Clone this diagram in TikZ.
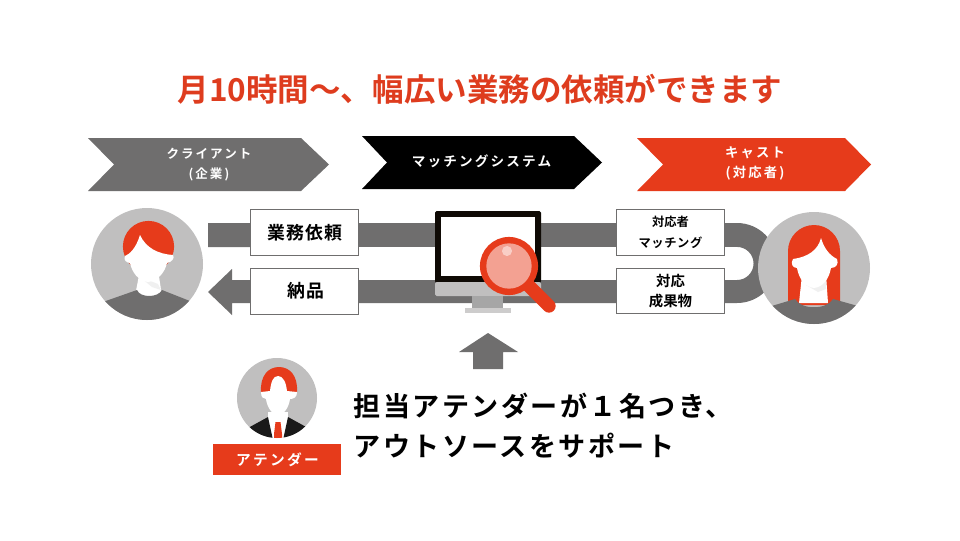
\documentclass[tikz,border=0pt]{standalone}
\usepackage{fontspec}
\setmainfont{Noto Sans CJK JP}[BoldFont={Noto Sans CJK JP Bold}]
\definecolor{brandred}{HTML}{E63B1B}
\definecolor{band}{HTML}{6F6E6E}
\definecolor{disc}{HTML}{C0BFBF}
\definecolor{titlered}{HTML}{DE3C1E}
\newcommand{\fs}[2]{\fontsize{#1}{#2}\selectfont\bfseries}
\newfontfamily\chevf{Noto Sans CJK JP}[LetterSpace=16,BoldFont={Noto Sans CJK JP Bold}]
\newfontfamily\bigf{Noto Sans CJK JP}[LetterSpace=9,BoldFont={Noto Sans CJK JP Bold}]
\newfontfamily\midf{Noto Sans CJK JP}[LetterSpace=5,BoldFont={Noto Sans CJK JP Bold}]
\tikzset{
  boxnode/.style={draw=band,line width=0.6pt,fill=white,inner sep=0pt,align=center,text=black},
  chevlabel/.style={inner sep=0pt,align=center,text=white,font=\chevf\fs{9.4}{15}},
}
\begin{document}
\begin{tikzpicture}[x=0.75pt,y=-0.75pt]
\useasboundingbox (0,0) rectangle (960,540);
\fill[white] (0,0) rectangle (960,540);
% title
\node[text=titlered,inner sep=0pt,font=\fs{23.65}{28}] (title) at (480,89) {月10時間〜、幅広い業務の依頼ができます};
% chevrons
\fill[band] (88,138) -- (301,138) -- (329,164.5) -- (301,191) -- (88,191) -- (114,164.5) -- cycle;
\fill[black] (362,136) -- (574,136) -- (602,162.5) -- (574,189) -- (362,189) -- (387,162.5) -- cycle;
\fill[brandred] (637,138) -- (845,138) -- (871,164.5) -- (845,191) -- (637,191) -- (663,164.5) -- cycle;
\node[chevlabel] (client) at (209,164.5) {クライアント\\(企業)};
\node[chevlabel,font=\chevf\fs{10.2}{15}] (system) at (481.5,161.5) {マッチングシステム};
\node[chevlabel,font=\chevf\fs{10}{15}] (cast) at (755,163.5) {キャスト\\(対応者)};
% band with U-turn and arrow head
\fill[band] (208,223) -- (737,223) arc[start angle=90,end angle=-90,radius=30pt] -- (232,303) -- (232,315) -- (208,292) -- (232,269) -- (232,280)
  -- (737,280) arc[start angle=-90,end angle=90,radius=12.4pt] -- (208,247) -- cycle;
% monitor
\fill[black!92!brown,rounded corners=1.2pt] (435,211) rectangle (541,283);
\fill[white] (441,217) rectangle (535,276);
\fill[disc,rounded corners=1.2pt] (435,282) rectangle (541,296);
\fill[black!35] (472,296) rectangle (503,308);
\fill[disc!80] (465,308) rectangle (511,312.5);
% magnifier
\coordinate (lens) at (509,266);
\coordinate (handle) at (549,306);
\draw[brandred,line width=10pt,line cap=round] (lens) -- (handle);
\fill[brandred] (lens) circle[radius=21.8pt];
\fill[brandred!48!white] (lens) circle[radius=17pt];
\fill[brandred!25!white] (507,251) circle[radius=3.8pt];
% up arrow
\fill[band] (488,333) -- (518,352) -- (503,352) -- (503,369) -- (473,369) -- (473,352) -- (459,352) -- cycle;
% boxes
\node[boxnode,minimum width=81pt,minimum height=34pt] (request) at (304,232.5) {};
\node[boxnode,minimum width=81pt,minimum height=34.5pt] (deliver) at (304,291) {};
\node[inner sep=0pt,font=\midf\fs{13.4}{18}] (requesttext) at (305,232.5) {業務依頼};
\node[inner sep=0pt,font=\midf\fs{13.4}{18}] (delivertext) at (306,291) {納品};
\node[boxnode,minimum width=81.5pt,minimum height=34pt,font=\fs{9.2}{15.5}] (matching) at (670.5,232.5) {対応者\\{\midf\fs{9.2}{15.5}マッチング}};
\node[boxnode,minimum width=81.5pt,minimum height=34pt,font=\fs{10.8}{15.5}] (result) at (670.5,291) {対応\\成果物};
% client person
\coordinate (cl) at (147,264);
\fill[disc] (cl) circle[radius=42pt];
\begin{scope}
\clip (cl) circle[radius=42pt];
\fill[brandred] (148.5,246.5) circle[radius=19.2pt];
\fill[white] (140,270) -- (158,270) -- (162,296) -- (135,296) -- cycle;
\fill[black!6] (140,277) -- (158,284) -- (161,290) -- (152,287) -- cycle;
\fill[white] (140,235) .. controls (136,248) and (130,254) .. (125,256) .. controls (123,260) and (127,263) .. (130,263)
  .. controls (132,272) and (138,281) .. (148,282) .. controls (158,281) and (165,272) .. (167,263)
  .. controls (172,262) and (175,258) .. (173,255) .. controls (158,254) and (146,248) .. (140,235) -- cycle;
\fill[band] (100,303) -- (137,290) .. controls (140,298) and (158,298) .. (162,290) -- (195,303) -- (195,330) -- (100,330) -- cycle;
\end{scope}
% cast person
\coordinate (ca) at (814,268);
\fill[disc] (ca) circle[radius=42pt];
\begin{scope}
\clip (ca) circle[radius=42pt];
\fill[brandred] (788,305) -- (788,251) arc[start angle=180,end angle=0,radius=19.5pt] -- (840,305) -- cycle;
\fill[white] (802,275) -- (826,275) -- (828,303) -- (799,303) -- cycle;
\fill[black!6] (806,285) -- (826,281) -- (826,289) -- (818,292) -- cycle;
\fill[white] (821,238) .. controls (818,250) and (808,257) .. (793,259) .. controls (790,264) and (793,268) .. (797,268)
  .. controls (799,279) and (805,287) .. (814,288) .. controls (823,287) and (829,279) .. (831,268)
  .. controls (836,268) and (839,264) .. (837,259) .. controls (829,255) and (824,248) .. (821,238) -- cycle;
\fill[band] (765,308) -- (795,299) .. controls (801,310) and (827,310) .. (833,299) -- (865,308) -- (865,335) -- (765,335) -- cycle;
\end{scope}
% attendant person
\coordinate (at) at (277,398);
\fill[disc] (at) circle[radius=30pt];
\begin{scope}
\clip (at) circle[radius=30pt];
\fill[brandred] (261,392) .. controls (260,376) and (268,367) .. (279,367) .. controls (290,367) and (298,376) .. (297,392) -- cycle;
\fill[white] (268,412) rectangle (288,440);
\fill[white] (278,376) .. controls (273,376) and (271,382) .. (270,391) -- (261,392) .. controls (261,397) and (263,399) .. (266,399)
  .. controls (267,407) and (272,415) .. (278,415) .. controls (284,415) and (289,407) .. (290,399)
  .. controls (294,399) and (297,397) .. (297,392) -- (287,391) .. controls (286,382) and (283,376) .. (278,376) -- cycle;
\fill[black!90] (248,428) -- (268,417) -- (273,440) -- (248,440) -- cycle;
\fill[black!90] (308,428) -- (288,417) -- (283,440) -- (308,440) -- cycle;
\fill[brandred] (275.5,422) -- (280.5,422) -- (282,434) -- (282,440) -- (274,440) -- (274,434) -- cycle;
\end{scope}
% attendant label
\node[fill=brandred,minimum width=96pt,minimum height=23pt,inner sep=0pt] (attlabel) at (277,459.5) {};
\node[inner sep=0pt,text=white,font=\chevf\fs{11}{14}] (attlabeltext) at (277.5,459.5) {アテンダー};
% message
\node[anchor=west,inner sep=0pt,font=\bigf\fs{20.3}{24}] (line1) at (353.5,406) {担当アテンダーが１名つき、};
\node[anchor=west,inner sep=0pt,font=\bigf\fs{20.3}{24}] (line2) at (353.5,446) {アウトソースをサポート};
\end{tikzpicture}
\end{document}
